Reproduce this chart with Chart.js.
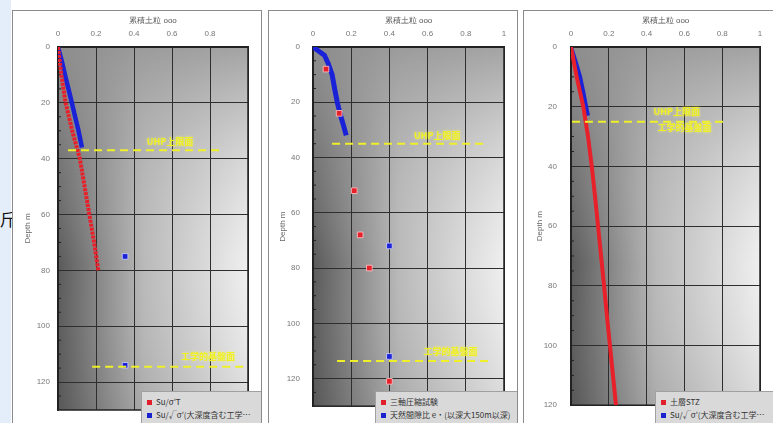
<!DOCTYPE html>
<html>
<head>
<meta charset="utf-8">
<script src="https://cdn.jsdelivr.net/npm/chart.js@4.4.0/dist/chart.umd.min.js"></script>
<style>
html, body { margin: 0; padding: 0; width: 773px; height: 423px; overflow: hidden; background: #fff;
  font-family: "Noto Sans CJK JP", "Noto Sans", sans-serif; }
#strip { position: absolute; left: 0; top: 0; width: 11px; height: 423px; background: #e4eefa; }
#cut { position: absolute; left: 0; top: 209px; font-size: 17px; color: #111; line-height: 20px; }
.panel { position: absolute; top: 10px; height: 420px; border: 1px solid #8a8a8a; border-bottom: none;
  background: #fff; box-sizing: border-box; overflow: hidden; }
.panel canvas { position: absolute; left: 0; top: 0; }
.legend { position: absolute; background: #d9d9d9; border: 1px solid #a0a0a0; font-size: 8px; color: #333;
  padding: 3px 5px; line-height: 13px; white-space: nowrap; overflow: hidden; box-sizing: border-box; }
.sw { display: inline-block; width: 5px; height: 5px; margin-right: 4px; vertical-align: middle; }
</style>
</head>
<body>
<div id="strip"></div>
<div id="cut">斤</div>

<div class="panel" style="left:12px;width:250px;">
  <canvas id="panelA" width="248" height="413"></canvas>
  <div class="legend" style="left:128px;top:380px;width:122px;height:40px;">
    <div><span class="sw" style="background:#e0202a"></span><span id="legA1"></span></div>
    <div><span class="sw" style="background:#1a22d0"></span><span id="legA2"></span></div>
  </div>
</div>
<div class="panel" style="left:268px;width:250px;">
  <canvas id="panelB" width="248" height="413"></canvas>
  <div class="legend" style="left:106px;top:380px;width:144px;height:40px;">
    <div><span class="sw" style="background:#e0202a"></span><span id="legB1"></span></div>
    <div><span class="sw" style="background:#1a22d0"></span><span id="legB2"></span></div>
  </div>
</div>
<div class="panel" style="left:523px;width:252px;">
  <canvas id="panelC" width="250" height="413"></canvas>
  <div class="legend" style="left:131px;top:380px;width:121px;height:40px;">
    <div><span class="sw" style="background:#e0202a"></span><span id="legC1"></span></div>
    <div><span class="sw" style="background:#1a22d0"></span><span id="legC2"></span></div>
  </div>
</div>

<script>
const depthTicks = [0, 20, 40, 60, 80, 100, 120];
const ratioTicks = [0, 0.2, 0.4, 0.6, 0.8, 1];
const axisTitle = "累積土粒 ooo";
const depthTitle = "Depth m";
const boundNames = ["UHP上限面", "工学的基盤面"];

// left panel
const aRedDepth = [0, 10, 20, 30, 40, 50, 60, 70, 80];
const aRedValue = [0, 0.018, 0.04, 0.075, 0.115, 0.14, 0.165, 0.19, 0.212];
const aBlueDepth = [0, 5, 10, 15, 20, 25, 30, 36];
const aBlueValue = [0, 0.02, 0.037, 0.055, 0.073, 0.09, 0.108, 0.126];
const aDeepDepth = [75, 114];
const aDeepValue = [0.353, 0.353];
const aBoundDepth = [37, 114.5];
const aBoundFrom = [0.053, 0.18];
const aBoundTo = [0.853, 1.0];
const aLegend = ["Su/σ'T", "Su/√σ'(大深度含む工学…"];

// middle panel
const bBlueDepth = [0, 3, 6, 10, 15, 20, 25, 28, 32];
const bBlueValue = [0, 0.06, 0.08, 0.1, 0.113, 0.127, 0.145, 0.158, 0.174];
const bRedDepth = [8, 24, 52, 68, 80, 121];
const bRedValue = [0.068, 0.137, 0.216, 0.247, 0.295, 0.4];
const bDeepDepth = [72, 112];
const bDeepValue = [0.4, 0.4];
const bBoundDepth = [35, 113.6];
const bBoundFrom = [0.1, 0.126];
const bBoundTo = [0.895, 0.93];
const bLegend = ["三軸圧縮試験", "天然間隙比 e・(以深大150m以深)"];

// right panel
const cRedDepth = [0, 10, 20, 30, 40, 50, 60, 70, 80, 90, 100, 110, 120];
const cRedValue = [0, 0.03, 0.065, 0.09, 0.11, 0.127, 0.143, 0.159, 0.175, 0.19, 0.206, 0.222, 0.238];
const cBlueDepth = [0, 5, 10, 15, 20, 23];
const cBlueValue = [0, 0.025, 0.048, 0.065, 0.08, 0.09];
const cBoundDepth = [25];
const cBoundFrom = [0.005];
const cBoundTo = [0.815];
const cLegend = ["土層STZ", "Su/√σ'(大深度含む工学…"];

const pts = (vals, depths) => vals.map((v, i) => ({ x: v, y: depths[i] }));

const plotBg = {
  id: "plotBg",
  beforeDraw(chart) {
    const { ctx, chartArea: a } = chart;
    ctx.save();
    const h = ctx.createLinearGradient(a.left, 0, a.right, 0);
    h.addColorStop(0, "#5a5a5a");
    h.addColorStop(0.45, "#b9b9b9");
    h.addColorStop(1, "#efefef");
    ctx.fillStyle = h;
    ctx.fillRect(a.left, a.top, a.width, a.height);
    const v = ctx.createLinearGradient(0, a.top, 0, a.bottom);
    v.addColorStop(0, "rgba(150,150,150,0.85)");
    v.addColorStop(0.3, "rgba(170,170,170,0.35)");
    v.addColorStop(0.6, "rgba(200,200,200,0)");
    v.addColorStop(1, "rgba(60,60,60,0.12)");
    ctx.fillStyle = v;
    ctx.fillRect(a.left, a.top, a.width, a.height);
    ctx.restore();
  },
  beforeDatasetsDraw(chart) {
    const { ctx, chartArea: a, scales } = chart;
    ctx.save();
    ctx.strokeStyle = "#222";
    ctx.lineWidth = 1.5;
    ctx.strokeRect(a.left, a.top, a.width, a.height);
    // small minor ticks on the inner left edge
    ctx.lineWidth = 1;
    for (let d = 5; d < scales.y.max; d += 5) {
      if (d % 20 === 0) continue;
      const y = scales.y.getPixelForValue(d);
      ctx.beginPath();
      ctx.moveTo(a.left, y);
      ctx.lineTo(a.left + 3, y);
      ctx.stroke();
    }
    ctx.restore();
  },
  afterDatasetsDraw(chart) {
    const { ctx, scales } = chart;
    const labels = chart.options.plugins.plotBg.labels || [];
    ctx.save();
    ctx.font = "bold 9px 'Noto Sans CJK JP'";
    ctx.textAlign = "center";
    ctx.textBaseline = "middle";
    ctx.shadowColor = "rgba(255,255,120,0.8)";
    ctx.shadowBlur = 3;
    ctx.fillStyle = "#eeee22";
    for (const l of labels) {
      ctx.fillText(l.text, scales.x.getPixelForValue(l.x), scales.y.getPixelForValue(l.depth));
    }
    ctx.restore();
  },
};

function makePanel(id, p) {
  const datasets = [];
  p.bounds.depth.forEach((d, i) => {
    datasets.push({
      data: [{ x: p.bounds.from[i], y: d }, { x: p.bounds.to[i], y: d }],
      showLine: true,
      borderColor: "#f0f028",
      borderWidth: 2,
      borderDash: [8, 5],
      pointRadius: 0,
    });
  });
  for (const s of p.series) datasets.push(s);

  return new Chart(document.getElementById(id), {
    type: "scatter",
    data: { datasets: datasets },
    options: {
      responsive: false,
      animation: false,
      layout: { padding: { left: 0, right: p.padRight, top: 0, bottom: 14 } },
      plugins: {
        legend: { display: false },
        tooltip: { enabled: false },
        plotBg: { labels: p.labels },
      },
      scales: {
        x: {
          type: "linear",
          position: "top",
          min: 0,
          max: 1,
          afterBuildTicks: (s) => { s.ticks = ratioTicks.map((v) => ({ value: v })); },
          afterFit: (s) => { s.height = 36; },
          ticks: {
            padding: 8,
            color: "#777",
            font: { size: 8 },
            callback: (v) => (p.hideLast && v === 1 ? "" : String(v)),
          },
          grid: { color: "#2e2e2e", lineWidth: 1, drawTicks: false },
          border: { display: true, color: "#222", width: 1.5 },
          title: { display: true, text: axisTitle, color: "#555", font: { size: 8 }, padding: { top: 5, bottom: 0 } },
        },
        y: {
          type: "linear",
          reverse: true,
          min: 0,
          max: p.maxDepth,
          afterBuildTicks: (s) => { s.ticks = depthTicks.map((v) => ({ value: v })); },
          afterFit: (s) => { s.width = p.left; },
          ticks: { padding: p.yPad, color: "#777", font: { size: 8 } },
          grid: { color: "#2e2e2e", lineWidth: 1, drawTicks: false },
          border: { display: true, color: "#222", width: 1.5 },
          title: { display: true, text: depthTitle, color: "#666", font: { size: 8 }, padding: { top: p.yTitlePad, bottom: 0 } },
        },
      },
    },
    plugins: [plotBg],
  });
}

const red = "#e8202a";
const blue = "#1a22d8";

makePanel("panelA", {
  left: 45, padRight: 13, maxDepth: 130, yPad: 8, yTitlePad: 10, hideLast: true,
  bounds: { depth: aBoundDepth, from: aBoundFrom, to: aBoundTo },
  labels: [
    { text: boundNames[0], x: 0.59, depth: 34 },
    { text: boundNames[1], x: 0.79, depth: 111 },
  ],
  series: [
    { data: pts(aRedValue, aRedDepth), showLine: true, borderColor: red, borderWidth: 4, borderDash: [3, 1], pointRadius: 0 },
    { data: pts(aBlueValue, aBlueDepth), showLine: true, borderColor: blue, borderWidth: 4.5, pointRadius: 0 },
    { data: pts(aDeepValue, aDeepDepth), showLine: false, backgroundColor: blue, borderColor: "rgba(210,210,255,0.8)", borderWidth: 1, pointStyle: "rect", pointRadius: 4 },
  ],
});

makePanel("panelB", {
  left: 44, padRight: 13, maxDepth: 130, yPad: 13, yTitlePad: 9, hideLast: false,
  bounds: { depth: bBoundDepth, from: bBoundFrom, to: bBoundTo },
  labels: [
    { text: boundNames[0], x: 0.65, depth: 32 },
    { text: boundNames[1], x: 0.72, depth: 110.4 },
  ],
  series: [
    { data: pts(bRedValue, bRedDepth), showLine: false, backgroundColor: red, borderColor: "rgba(255,200,200,0.8)", borderWidth: 1, pointStyle: "rect", pointRadius: 4 },
    { data: pts(bBlueValue, bBlueDepth), showLine: true, borderColor: blue, borderWidth: 5, pointRadius: 0 },
    { data: pts(bDeepValue, bDeepDepth), showLine: false, backgroundColor: blue, borderColor: "rgba(210,210,255,0.8)", borderWidth: 1, pointStyle: "rect", pointRadius: 4 },
  ],
});

makePanel("panelC", {
  left: 47, padRight: 14, maxDepth: 120, yPad: 14, yTitlePad: 11, hideLast: false,
  bounds: { depth: cBoundDepth, from: cBoundFrom, to: cBoundTo },
  labels: [
    { text: boundNames[0], x: 0.56, depth: 21.8 },
    { text: boundNames[1], x: 0.6, depth: 27 },
  ],
  series: [
    { data: pts(cRedValue, cRedDepth), showLine: true, borderColor: red, borderWidth: 4, pointRadius: 0 },
    { data: pts(cBlueValue, cBlueDepth), showLine: true, borderColor: blue, borderWidth: 4, pointRadius: 0 },
  ],
});

document.getElementById("legA1").textContent = aLegend[0];
document.getElementById("legA2").textContent = aLegend[1];
document.getElementById("legB1").textContent = bLegend[0];
document.getElementById("legB2").textContent = bLegend[1];
document.getElementById("legC1").textContent = cLegend[0];
document.getElementById("legC2").textContent = cLegend[1];
</script>
</body>
</html>
